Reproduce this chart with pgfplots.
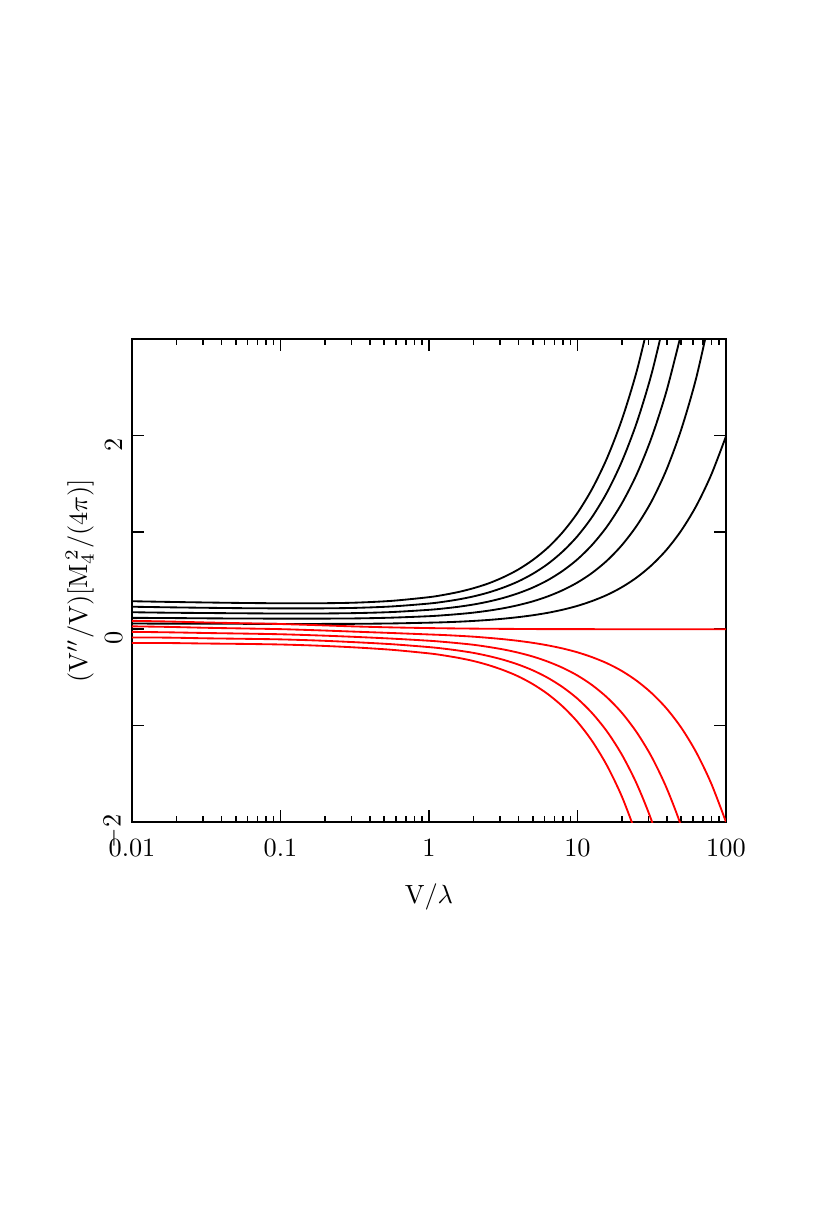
\documentclass[border=0pt]{standalone}
\usepackage{pgfplots}
\pgfplotsset{compat=1.18}
\begin{document}
\begin{tikzpicture}
\useasboundingbox (-50.16pt,-146.68pt) rectangle (265.24pt,312.36pt);
\begin{axis}[
  at={(0,0)}, anchor=south west,
  scale only axis, width=225.7pt, height=183.5pt,
  xmode=log, xmin=0.01, xmax=100, ymin=-2, ymax=3,
  xtick={0.01,0.1,1,10,100}, xticklabels={0.01,0.1,1,10,100},
  ytick={-2,-1,0,1,2}, yticklabels={$-2$,,0,,2},
  major tick length=4.6pt, minor tick length=2.3pt,
  tick style={black, line width=0.6pt},
  axis line style={line width=0.8pt},
  tick pos=both, tick align=inside,
  xticklabel style={yshift=-3pt},
  yticklabel style={rotate=90, anchor=south, xshift=-3.5pt},
  xlabel={V/$\lambda$}, ylabel={(V$''$/V)[M$_4^{\,2}$/(4$\pi$)]},
  xlabel style={at={(axis description cs:0.5,-0.155)}, anchor=center},
  ylabel style={at={(axis description cs:-0.088,0.5)}, anchor=center},
  every axis plot/.append style={line width=0.7pt, smooth},
]
% black family
\addplot[black] coordinates {(0.01,0.286)(0.0178,0.279)(0.0316,0.273)(0.0562,0.268)(0.1,0.265)(0.178,0.265)(0.316,0.271)(0.562,0.290)(1,0.328)(1.259,0.352)(1.585,0.382)(1.995,0.421)(2.512,0.470)(3.162,0.534)(3.981,0.613)(5.012,0.714)(6.310,0.840)(7.943,1.000)(10,1.200)(12.59,1.453)(15.85,1.771)(19.95,2.170)(25.12,2.674)(31.62,3.308)};
\addplot[black] coordinates {(0.01,0.229)(0.0178,0.223)(0.0316,0.218)(0.0562,0.214)(0.1,0.212)(0.178,0.212)(0.316,0.217)(0.562,0.232)(1,0.262)(1.259,0.281)(1.585,0.305)(1.995,0.336)(2.512,0.376)(3.162,0.427)(3.981,0.490)(5.012,0.571)(6.310,0.672)(7.943,0.800)(10,0.960)(12.59,1.162)(15.85,1.416)(19.95,1.736)(25.12,2.139)(31.62,2.646)(39.81,3.285)};
\addplot[black] coordinates {(0.01,0.172)(0.0178,0.167)(0.0316,0.164)(0.0562,0.161)(0.1,0.159)(0.178,0.159)(0.316,0.163)(0.562,0.174)(1,0.197)(1.259,0.211)(1.585,0.229)(1.995,0.252)(2.512,0.282)(3.162,0.320)(3.981,0.368)(5.012,0.428)(6.310,0.504)(7.943,0.600)(10,0.720)(12.59,0.872)(15.85,1.062)(19.95,1.302)(25.12,1.604)(31.62,1.985)(39.81,2.464)(50.12,3.067)};
\addplot[black] coordinates {(0.01,0.114)(0.0178,0.112)(0.0316,0.109)(0.0562,0.107)(0.1,0.106)(0.178,0.106)(0.316,0.108)(0.562,0.116)(1,0.131)(1.259,0.141)(1.585,0.153)(1.995,0.168)(2.512,0.188)(3.162,0.213)(3.981,0.245)(5.012,0.285)(6.310,0.336)(7.943,0.400)(10,0.480)(12.59,0.581)(15.85,0.708)(19.95,0.868)(25.12,1.070)(31.62,1.323)(39.81,1.650)(50.12,2.070)(63.10,2.600)(79.43,3.280)};
\addplot[black] coordinates {(0.01,0.055)(0.0178,0.054)(0.0316,0.053)(0.0562,0.052)(0.1,0.051)(0.178,0.051)(0.316,0.052)(0.562,0.056)(1,0.064)(1.259,0.068)(1.585,0.074)(1.995,0.082)(2.512,0.092)(3.162,0.105)(3.981,0.121)(5.012,0.141)(6.310,0.166)(7.943,0.198)(10,0.238)(12.59,0.289)(15.85,0.352)(19.95,0.432)(25.12,0.533)(31.62,0.660)(39.81,0.819)(50.12,1.020)(63.10,1.273)(79.43,1.592)(100,1.993)};
% red family
\addplot[red] coordinates {(0.01,0.083)(0.0178,0.076)(0.0316,0.066)(0.0562,0.058)(0.1,0.050)(0.178,0.038)(0.316,0.025)(0.562,0.015)(1,0.008)(1.585,0.004)(2.512,0.001)(3.981,-0.001)(6.310,-0.003)(10,-0.003)(25.12,-0.004)(100,-0.004)};
\addplot[red] coordinates {(0.01,0.026)(0.0178,0.020)(0.0316,0.011)(0.0562,0.004)(0.1,-0.003)(0.178,-0.015)(0.316,-0.029)(0.562,-0.043)(1,-0.058)(1.259,-0.064)(1.585,-0.072)(1.995,-0.081)(2.512,-0.093)(3.162,-0.107)(3.981,-0.124)(5.012,-0.145)(6.310,-0.171)(7.943,-0.203)(10,-0.243)(12.59,-0.294)(15.85,-0.357)(19.95,-0.437)(25.12,-0.539)(31.62,-0.666)(39.81,-0.825)(50.12,-1.026)(63.10,-1.279)(79.43,-1.598)(100,-1.999)};
\addplot[red] coordinates {(0.01,-0.031)(0.0178,-0.036)(0.0316,-0.043)(0.0562,-0.049)(0.1,-0.056)(0.178,-0.068)(0.316,-0.083)(0.562,-0.101)(1,-0.123)(1.259,-0.135)(1.585,-0.149)(1.995,-0.165)(2.512,-0.187)(3.162,-0.213)(3.981,-0.246)(5.012,-0.287)(6.310,-0.339)(7.943,-0.403)(10,-0.483)(12.59,-0.584)(15.85,-0.711)(19.95,-0.871)(25.12,-1.074)(31.62,-1.327)(39.81,-1.647)(50.12,-2.049)(63.10,-2.555)};
\addplot[red] coordinates {(0.01,-0.089)(0.0178,-0.091)(0.0316,-0.098)(0.0562,-0.103)(0.1,-0.109)(0.178,-0.121)(0.316,-0.138)(0.562,-0.159)(1,-0.189)(1.259,-0.205)(1.585,-0.225)(1.995,-0.249)(2.512,-0.281)(3.162,-0.320)(3.981,-0.369)(5.012,-0.430)(6.310,-0.507)(7.943,-0.603)(10,-0.723)(12.59,-0.875)(15.85,-1.065)(19.95,-1.305)(25.12,-1.608)(31.62,-1.989)(39.81,-2.468)};
\addplot[red] coordinates {(0.01,-0.146)(0.0178,-0.147)(0.0316,-0.152)(0.0562,-0.156)(0.1,-0.162)(0.178,-0.174)(0.316,-0.192)(0.562,-0.217)(1,-0.254)(1.259,-0.275)(1.585,-0.301)(1.995,-0.333)(2.512,-0.375)(3.162,-0.427)(3.981,-0.491)(5.012,-0.573)(6.310,-0.675)(7.943,-0.803)(10,-0.963)(12.59,-1.165)(15.85,-1.419)(19.95,-1.739)(25.12,-2.143)};
\end{axis}
\end{tikzpicture}
\end{document}
